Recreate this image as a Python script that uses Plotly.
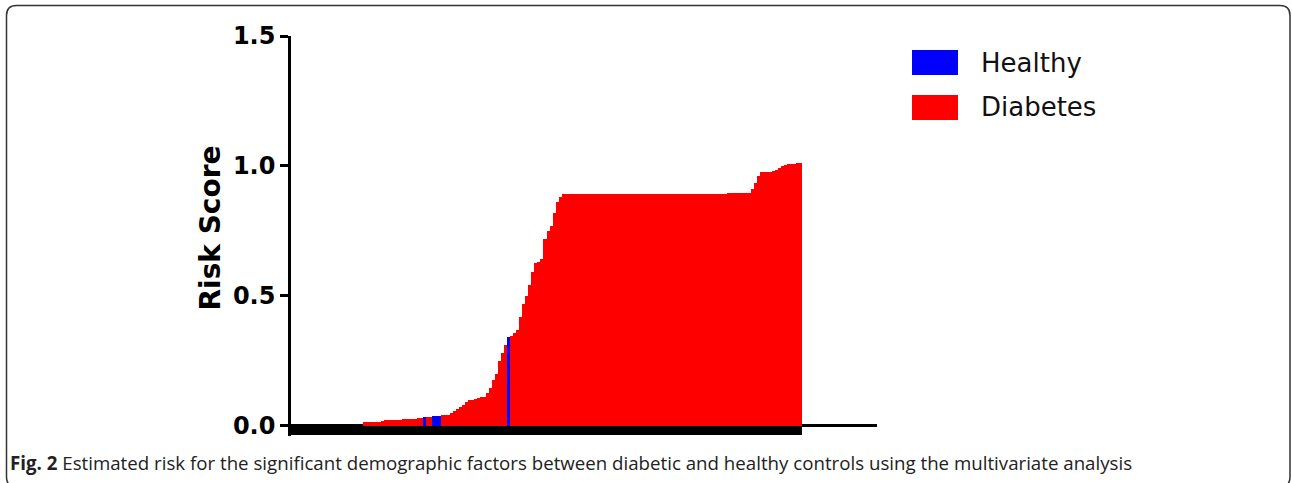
import plotly.graph_objects as go

# ---- data: risk score per subject, sorted ascending ----
risk_scores = [
    0.0, 0.0, 0.0, 0.0, 0.0, 0.0, 0.0, 0.0, 0.0, 0.0, 0.0, 0.0,
    0.0, 0.0, 0.0, 0.0, 0.0, 0.0, 0.0, 0.0, 0.0, 0.0, 0.0, 0.0,
    0.013, 0.013, 0.013, 0.014, 0.015, 0.015, 0.018, 0.02, 0.02, 0.02,
    0.021, 0.022, 0.022, 0.024, 0.025, 0.025, 0.026, 0.027, 0.03, 0.03,
    0.033, 0.035, 0.035, 0.036, 0.036, 0.037, 0.04, 0.04, 0.042, 0.05,
    0.055, 0.065, 0.07, 0.08, 0.09, 0.1, 0.1, 0.102, 0.105, 0.11,
    0.11, 0.125, 0.145, 0.175, 0.2, 0.25, 0.28, 0.31, 0.34, 0.345,
    0.355, 0.37, 0.42, 0.47, 0.5, 0.54, 0.59, 0.625, 0.63, 0.64,
    0.72, 0.75, 0.77, 0.82, 0.86, 0.88,
    0.89, 0.89, 0.89, 0.89, 0.89, 0.89, 0.89, 0.89, 0.89, 0.89, 0.89,
    0.89, 0.89, 0.89, 0.89, 0.89, 0.89, 0.89, 0.89, 0.89, 0.89, 0.89,
    0.89, 0.89, 0.89, 0.89, 0.89, 0.89, 0.89, 0.89, 0.89, 0.89, 0.89,
    0.89, 0.89, 0.89, 0.89, 0.89, 0.89, 0.89, 0.89, 0.89, 0.89, 0.89,
    0.89, 0.89, 0.89, 0.89, 0.89, 0.89, 0.89, 0.89, 0.89, 0.89, 0.89,
    0.895, 0.895, 0.895, 0.895, 0.895, 0.895, 0.895, 0.895,
    0.91, 0.935, 0.96, 0.975, 0.978, 0.978, 0.978, 0.98, 0.985, 0.99,
    1.0, 1.005, 1.006, 1.006, 1.008, 1.01, 1.012,
]
# indices (positions in the sorted order) of the healthy controls
healthy_idx = [44, 47, 48, 49, 72]

series_names = ["Healthy", "Diabetes"]
y_ticks = [0.0, 0.5, 1.0, 1.5]
y_tick_labels = ["0.0", "0.5", "1.0", "1.5"]
y_title = "Risk Score"
caption_bold = "Fig. 2"
caption_text = ("Estimated risk for the significant demographic factors between "
                "diabetic and healthy controls using the multivariate analysis")

# ---- split ----
n = len(risk_scores)
hx = [i for i in healthy_idx]
hy = [risk_scores[i] for i in healthy_idx]
dx = [i for i in range(n) if i not in healthy_idx]
dy = [risk_scores[i] for i in dx]

BLUE = "#0000FF"
RED = "#FF0000"

fig = go.Figure()
# black baseline band under every subject
fig.add_trace(go.Bar(x=list(range(n)), y=[-0.038] * n, width=1,
                     marker=dict(color="black", line=dict(width=0)),
                     showlegend=False, hoverinfo="skip"))
fig.add_trace(go.Bar(x=dx, y=dy, width=1, name=series_names[1],
                     marker=dict(color=RED, line=dict(width=0)), showlegend=False))
fig.add_trace(go.Bar(x=hx, y=hy, width=1, name=series_names[0],
                     marker=dict(color=BLUE, line=dict(width=0)), showlegend=False))

# ---- layout geometry (pixels) ----
W, H = 1292, 483
L, R, T, B = 291, 415, 36, 47
PW, PH = W - L - R, H - T - B


def px(p):
    return (p - L) / PW


def py(p):
    return (H - B - p) / PH


x_max = (n) * (PW / 511.0) - 0.5

fig.update_layout(
    width=W, height=H,
    margin=dict(l=L, r=R, t=T, b=B, autoexpand=False),
    paper_bgcolor="white", plot_bgcolor="white",
    barmode="overlay", bargap=0,
    showlegend=False,
    font=dict(family="DejaVu Sans", color="black"),
    xaxis=dict(range=[-0.5, x_max], showgrid=False, zeroline=False,
               showline=False, showticklabels=False, ticks=""),
    yaxis=dict(range=[-0.04, 1.5], showgrid=False,
               zeroline=True, zerolinecolor="black", zerolinewidth=2.5,
               showline=True, linecolor="black", linewidth=2.5,
               ticks="outside", ticklen=8, tickwidth=2.5, tickcolor="black",
               tickvals=y_ticks, ticktext=y_tick_labels,
               tickfont=dict(family="DejaVu Sans", size=24, color="black",
                             weight="bold")),
)

shapes = []
annotations = []

# y-axis title
annotations.append(dict(text=f"<b>{y_title}</b>", xref="paper", yref="paper",
                        x=px(209.5), y=py(228), xanchor="center", yanchor="middle",
                        textangle=-90, showarrow=False,
                        font=dict(family="DejaVu Sans", size=28, color="black")))

# custom legend
legend_rows = [(series_names[0], BLUE, 50, 75), (series_names[1], RED, 95, 120)]
for name, col, y0, y1 in legend_rows:
    shapes.append(dict(type="rect", xref="paper", yref="paper",
                       x0=px(912), x1=px(958), y0=py(y1), y1=py(y0),
                       fillcolor=col, line=dict(width=0)))
    annotations.append(dict(text=name, xref="paper", yref="paper",
                            x=px(979), y=py((y0 + y1) / 2), xanchor="left",
                            yanchor="middle", showarrow=False,
                            font=dict(family="DejaVu Sans", size=26, color="#111")))

# caption
annotations.append(dict(text=f"<b>{caption_bold}</b> {caption_text}",
                        xref="paper", yref="paper", x=px(8), y=py(462),
                        xanchor="left", yanchor="middle", showarrow=False,
                        font=dict(family="Open Sans", size=18.7, color="#222")))

# rounded frame
bx0, bx1, by0, by1, r = 6.5, 1290, 5.5, 487, 10
rx, ry = r / PW, r / PH
X0, X1, Y0, Y1 = px(bx0), px(bx1), py(by0), py(by1)
path = (f"M {X0 + rx},{Y0} L {X1 - rx},{Y0} Q {X1},{Y0} {X1},{Y0 - ry} "
        f"L {X1},{Y1 + ry} Q {X1},{Y1} {X1 - rx},{Y1} "
        f"L {X0 + rx},{Y1} Q {X0},{Y1} {X0},{Y1 + ry} "
        f"L {X0},{Y0 - ry} Q {X0},{Y0} {X0 + rx},{Y0} Z")
shapes.append(dict(type="path", xref="paper", yref="paper", path=path,
                   line=dict(color="#333", width=1.5)))

fig.update_layout(shapes=shapes, annotations=annotations)
fig.write_html("out.html",
               config={"displayModeBar": False},
               post_script="document.body.style.margin='0';"
                           "document.body.style.overflow='hidden';")
